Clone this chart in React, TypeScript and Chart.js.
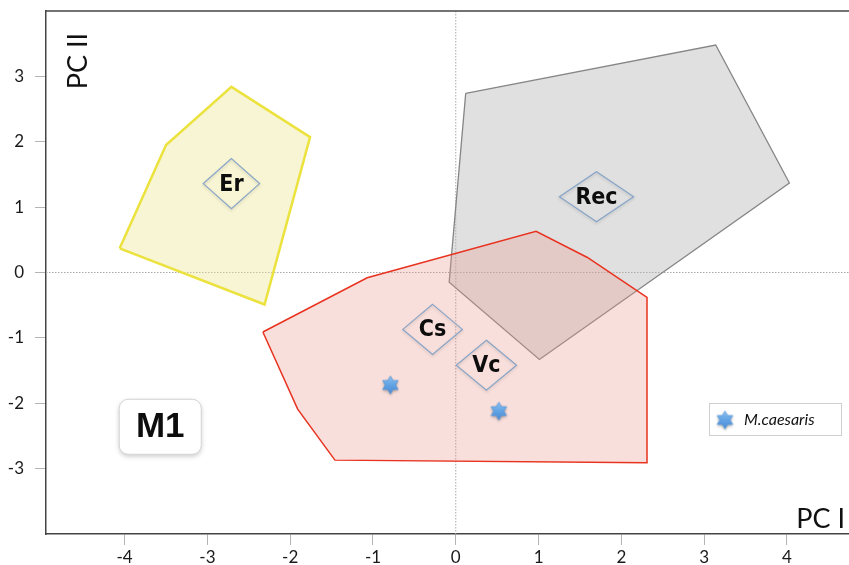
import { useEffect, useRef } from "react";
import { Chart, registerables } from "chart.js";

Chart.register(...registerables);

// Axis ticks
const xTicks = [-4, -3, -2, -1, 0, 1, 2, 3, 4];
const yTicks = [-3, -2, -1, 0, 1, 2, 3];

// Group hulls in PC space (PC I, PC II)
const erX = [-4.06, -3.5, -2.71, -1.76, -2.31];
const erY = [0.37, 1.95, 2.84, 2.07, -0.49];
const recX = [0.12, 3.14, 4.03, 1.01, -0.08];
const recY = [2.74, 3.48, 1.37, -1.33, -0.15];
const csVcX = [-2.33, -1.07, 0.97, 1.59, 2.31, 2.31, -1.46, -1.91];
const csVcY = [-0.91, -0.08, 0.63, 0.23, -0.38, -2.91, -2.87, -2.09];

// M. caesaris specimens
const caesarisX = [-0.79, 0.52];
const caesarisY = [-1.72, -2.12];

// Group centroid labels
const groupNames = ["Er", "Rec", "Cs", "Vc"];
const groupX = [-2.71, 1.7, -0.28, 0.37];
const groupY = [1.36, 1.16, -0.87, -1.42];

const modelLabel = "M1";
const modelX = -3.57;
const modelY = -2.36;

const closed = (xs: number[], ys: number[]) => [
  ...xs.map((x, i) => ({ x, y: ys[i] })),
  { x: xs[0], y: ys[0] },
];

// Six-pointed marker with a soft drop shadow
function makeStar(size: number): HTMLCanvasElement {
  const pad = 4;
  const full = size + pad * 2;
  const c = document.createElement("canvas");
  c.width = full;
  c.height = full;
  const g = c.getContext("2d")!;
  const cx = full / 2;
  const cy = full / 2;
  const R = size / 2 - 0.5;
  const r = R / Math.sqrt(3);
  const path = () => {
    g.beginPath();
    for (let i = 0; i < 12; i++) {
      const a = -Math.PI / 2 + (i * Math.PI) / 6;
      const rad = i % 2 === 0 ? R : r;
      const px = cx + rad * Math.cos(a);
      const py = cy + rad * Math.sin(a);
      if (i === 0) g.moveTo(px, py);
      else g.lineTo(px, py);
    }
    g.closePath();
  };
  const grad = g.createLinearGradient(0, cy - R, 0, cy + R);
  grad.addColorStop(0, "#8cc2f2");
  grad.addColorStop(0.5, "#62a3e4");
  grad.addColorStop(1, "#4a8ad6");
  g.save();
  g.shadowColor = "rgba(0,0,0,0.35)";
  g.shadowBlur = 3;
  g.shadowOffsetY = 1.5;
  path();
  g.fillStyle = grad;
  g.fill();
  g.restore();
  path();
  g.strokeStyle = "#5593d6";
  g.lineWidth = 0.7;
  g.stroke();
  return c;
}

const TICK_FONT = "Lato, 'Open Sans', sans-serif";
const LABEL_FONT = "'DejaVu Sans Condensed', 'Liberation Sans Narrow', 'DejaVu Sans', sans-serif";

const zeroPadding = (axis: any) => {
  axis.paddingTop = 0;
  axis.paddingBottom = 0;
  axis.paddingLeft = 0;
  axis.paddingRight = 0;
};

const overlays = {
  id: "pcaOverlays",
  beforeDatasetsDraw(chart: any) {
    const { ctx, chartArea: a, scales } = chart;
    const x0 = scales.x.getPixelForValue(0);
    const y0 = scales.y.getPixelForValue(0);
    ctx.save();
    ctx.strokeStyle = "#a8a8a8";
    ctx.lineWidth = 1;
    ctx.setLineDash([1.5, 1.5]);
    ctx.beginPath();
    ctx.moveTo(x0, a.top);
    ctx.lineTo(x0, a.bottom);
    ctx.moveTo(a.left, y0);
    ctx.lineTo(a.right, y0);
    ctx.stroke();
    ctx.restore();
  },
  afterDraw(chart: any) {
    const { ctx, chartArea: a, scales } = chart;
    const sx = scales.x;
    const sy = scales.y;
    ctx.save();

    // top frame line
    ctx.strokeStyle = "#444";
    ctx.lineWidth = 1.5;
    ctx.beginPath();
    ctx.moveTo(a.left, a.top);
    ctx.lineTo(a.right, a.top);
    ctx.stroke();

    // diamond group labels
    ctx.font = `bold 23px ${LABEL_FONT}`;
    ctx.textAlign = "center";
    ctx.textBaseline = "middle";
    groupNames.forEach((name, i) => {
      const cx = sx.getPixelForValue(groupX[i]);
      const cy = sy.getPixelForValue(groupY[i]);
      const hw = ctx.measureText(name).width / 2 + 16;
      const hh = 25;
      const path = () => {
        ctx.beginPath();
        ctx.moveTo(cx, cy - hh);
        ctx.lineTo(cx + hw, cy);
        ctx.lineTo(cx, cy + hh);
        ctx.lineTo(cx - hw, cy);
        ctx.closePath();
      };
      ctx.save();
      ctx.shadowColor = "rgba(0,0,0,0.18)";
      ctx.shadowBlur = 3;
      ctx.shadowOffsetY = 1.5;
      path();
      ctx.strokeStyle = "#86a4c8";
      ctx.lineWidth = 1.2;
      ctx.stroke();
      ctx.restore();
      ctx.fillStyle = "#0d0d0d";
      ctx.fillText(name, cx, cy + 1);
    });

    // model badge
    const mx = sx.getPixelForValue(modelX);
    const my = sy.getPixelForValue(modelY);
    const bw = 82;
    const bh = 55;
    ctx.save();
    ctx.shadowColor = "rgba(0,0,0,0.22)";
    ctx.shadowBlur = 5;
    ctx.shadowOffsetY = 2;
    ctx.beginPath();
    ctx.roundRect(mx - bw / 2, my - bh / 2, bw, bh, 9);
    ctx.fillStyle = "#ffffff";
    ctx.fill();
    ctx.restore();
    ctx.beginPath();
    ctx.roundRect(mx - bw / 2, my - bh / 2, bw, bh, 9);
    ctx.strokeStyle = "#d4d4d4";
    ctx.lineWidth = 1;
    ctx.stroke();
    ctx.font = "bold 35px 'Liberation Sans', Arial, sans-serif";
    ctx.fillStyle = "#0d0d0d";
    ctx.textAlign = "center";
    ctx.textBaseline = "middle";
    ctx.fillText(modelLabel, mx, my + 1);

    // legend
    const specimens = chart.data.datasets[0];
    const lx = a.right - 140;
    const ly = 403;
    ctx.fillStyle = "#ffffff";
    ctx.fillRect(lx, ly, 132, 32);
    ctx.strokeStyle = "#cfcfcf";
    ctx.lineWidth = 1;
    ctx.strokeRect(lx + 0.5, ly + 0.5, 132, 32);
    const star = specimens.pointStyle as HTMLCanvasElement;
    ctx.drawImage(star, lx + 16 - star.width / 2, ly + 17 - star.height / 2);
    ctx.font = `italic 16px ${TICK_FONT}`;
    ctx.fillStyle = "#111";
    ctx.textAlign = "left";
    ctx.textBaseline = "middle";
    ctx.fillText(specimens.label, lx + 35, ly + 17);

    // axis titles
    ctx.font = `27px ${TICK_FONT}`;
    ctx.fillStyle = "#111";
    ctx.textAlign = "right";
    ctx.textBaseline = "alphabetic";
    ctx.fillText("PC I", a.right - 4, a.bottom - 6);
    ctx.save();
    ctx.translate(a.left + 41, a.top + 50);
    ctx.rotate(-Math.PI / 2);
    ctx.textAlign = "center";
    ctx.fillText("PC II", 0, 0);
    ctx.restore();

    ctx.restore();
  },
};

export default function App() {
  const ref = useRef<HTMLCanvasElement>(null);

  useEffect(() => {
    document.body.style.margin = "0";
    const starImg = makeStar(19);
    const hull = (label: string, xs: number[], ys: number[], fill: string, line: string, w: number) => ({
      label,
      data: closed(xs, ys),
      showLine: true,
      fill: "shape",
      backgroundColor: fill,
      borderColor: line,
      borderWidth: w,
      pointRadius: 0,
      tension: 0,
      borderJoinStyle: "miter",
    });
    // Chart.js paints the first dataset on top, so specimens come first.
    const chart = new Chart(ref.current!, {
      type: "scatter",
      data: {
        datasets: [
          {
            label: "M.caesaris",
            data: caesarisX.map((x, i) => ({ x, y: caesarisY[i] })),
            pointStyle: starImg,
            pointRadius: 9,
            showLine: false,
          },
          hull("Cs / Vc", csVcX, csVcY, "rgba(236,150,135,0.30)", "#e8321f", 1.5),
          hull("Rec", recX, recY, "rgba(180,180,180,0.42)", "#868686", 1.3),
          hull("Er", erX, erY, "rgba(236,230,150,0.42)", "#ece23e", 2.5),
        ] as any,
      },
      options: {
        responsive: false,
        animation: false,
        devicePixelRatio: 1,
        events: [],
        layout: { autoPadding: false, padding: { top: 11, right: 0, left: 0, bottom: 0 } },
        plugins: {
          legend: { display: false },
          tooltip: { enabled: false },
        },
        scales: {
          x: {
            type: "linear",
            min: -4.95,
            max: 4.75,
            afterBuildTicks: (axis: any) => {
              axis.ticks = xTicks.map((v) => ({ value: v }));
            },
            afterFit: (axis: any) => {
              axis.height = 31;
              zeroPadding(axis);
            },
            grid: { drawOnChartArea: false, drawTicks: true, tickLength: 11, color: "#b4b4b4" },
            border: { color: "#444", width: 1.5 },
            ticks: {
              color: "#1a1a1a",
              padding: 2,
              maxRotation: 0,
              autoSkip: false,
              font: { family: TICK_FONT, size: 17 },
            },
          },
          y: {
            type: "linear",
            min: -4,
            max: 4,
            afterBuildTicks: (axis: any) => {
              axis.ticks = yTicks.map((v) => ({ value: v }));
            },
            afterFit: (axis: any) => {
              axis.width = 46;
              zeroPadding(axis);
            },
            grid: { drawOnChartArea: false, drawTicks: true, tickLength: 11, color: "#b4b4b4" },
            border: { color: "#444", width: 1.5 },
            ticks: {
              color: "#1a1a1a",
              padding: 11,
              autoSkip: false,
              font: { family: TICK_FONT, size: 17 },
            },
          },
        },
      } as any,
      plugins: [overlays],
    });
    return () => chart.destroy();
  }, []);

  return (
    <div style={{ width: 849, height: 565 }}>
      <canvas ref={ref} width={849} height={565} style={{ display: "block" }} />
    </div>
  );
}
